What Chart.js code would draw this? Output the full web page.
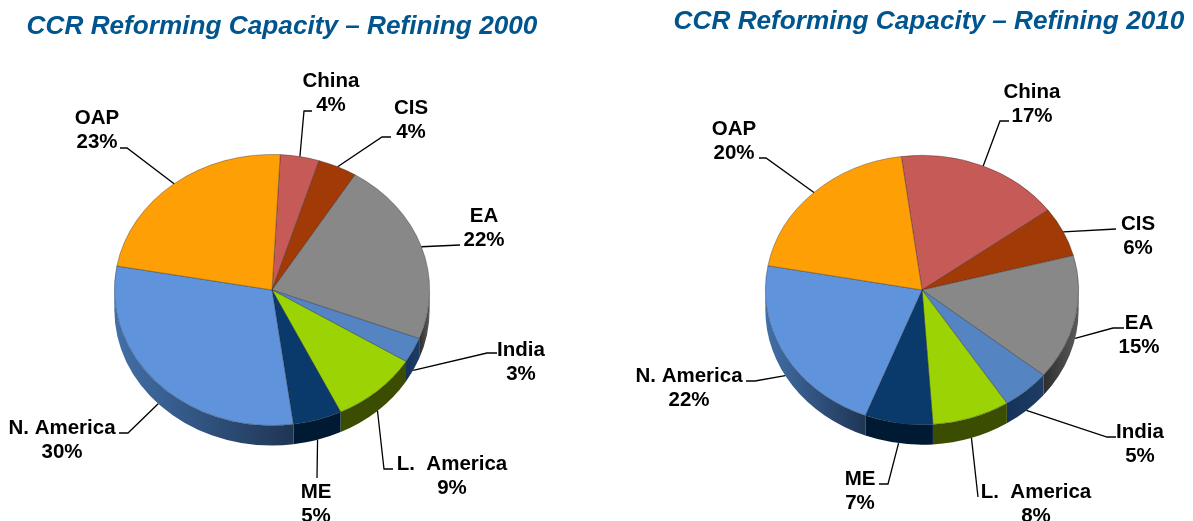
<!DOCTYPE html>
<html>
<head>
<meta charset="utf-8">
<style>
html,body{margin:0;padding:0;background:#fff;overflow:hidden;width:1193px;height:521px}
canvas{position:absolute;top:0;display:block}
</style>
<script src="https://cdn.jsdelivr.net/npm/chart.js@4/dist/chart.umd.min.js"></script>
</head>
<body>
<canvas id="c2000" style="left:0" width="600" height="521"></canvas>
<canvas id="c2010" style="left:600px" width="593" height="521"></canvas>
<script>
const categories = ['China','CIS','EA','India','L.  America','ME','N. America','OAP'];
const values2000 = [4,4,22,3,9,5,30,23];
const values2010 = [17,6,15,5,8,7,22,20];
const title2000 = 'CCR Reforming Capacity \u2013 Refining 2000';
const title2010 = 'CCR Reforming Capacity \u2013 Refining 2010';

const faceColors = ['#c55a57','#a23a08','#888888','#5484c2','#9bd305','#0a3a6b','#5f93dc','#ff9f06'];
const sideColors = [['#7a3533','#7a3533'],['#5e2204','#5e2204'],['#2d2d2d','#5c5c5c'],['#15335a','#1f3c64'],
                    ['#3a4d00','#3a4d00'],['#001a33','#001a33'],['#4270a8','#1f3555'],['#99600a','#99600a']];

const FONT_LABEL = 'bold 20.5px "Liberation Sans", Arial, sans-serif';
const FONT_TITLE = 'italic bold 26.2px "Liberation Sans", Arial, sans-serif';
const INK = '#000', TITLE_INK = '#00558f';
const SQUASH = 0.86, DEPTH = 20;

/* label layout, in canvas pixels: label centre x, first line y, leader route after the anchor */
const layout2000 = {
  title:[282,27], cx:272, rx:158,
  labels:[[331,81],[411,108],[484,216],[521,350],[452,464],[316,492],[62,428],[97,118]],
  routes:[[[304,111],[312,111]],[[382,137],[391,137]],[[460,245]],[[487,353],[497,353]],
          [[384,469],[393,469]],[[317,478]],[[128,433],[119,433]],[[127,148],[120,148]]]
};
const layout2010 = {
  title:[929-600,22], cx:922-600, rx:157,
  labels:[[432,92],[538,224],[539,323],[540,432],[436,492],[260,479],[89,376],[134,129]],
  routes:[[[400,121],[409,121]],[[516,229]],[[513,328],[524,328]],[[507,437],[516,437]],
          [[378,497]],[[288,484],[279,484]],[[155,381],[146,381]],[[166,158],[159,158]]]
};

function frontParts(s,e){
  const out=[];
  for(const k of [-2,0,2]){
    const a=Math.max(s,k*Math.PI), b=Math.min(e,(k+1)*Math.PI);
    if(b>a) out.push([a-k*Math.PI,b-k*Math.PI]);
  }
  return out;
}

function makePlugin(title,lay){
  return {
    id:'tiltedPie',
    beforeDatasetsDraw(chart){
      const ctx=chart.ctx, arcs=chart.getDatasetMeta(0).data;
      const cx=arcs[0].x, cy=arcs[0].y, r=arcs[0].outerRadius, ry=r*SQUASH;
      arcs.forEach((arc,i)=>{
        frontParts(arc.startAngle,arc.endAngle).forEach(([a,b])=>{
          const g=ctx.createLinearGradient(cx+r*Math.cos(b),0,cx+r*Math.cos(a),0);
          g.addColorStop(0,sideColors[i][0]); g.addColorStop(1,sideColors[i][1]);
          ctx.beginPath();
          ctx.ellipse(cx,cy,r,ry,0,a,b);
          ctx.ellipse(cx,cy+DEPTH,r,ry,0,b,a,true);
          ctx.closePath();
          ctx.fillStyle=g; ctx.fill();
        });
      });
      ctx.save();
      ctx.translate(cx,cy); ctx.scale(1,SQUASH); ctx.translate(-cx,-cy);
    },
    afterDatasetsDraw(chart){
      const ctx=chart.ctx; ctx.restore();
      const arcs=chart.getDatasetMeta(0).data;
      const vals=chart.data.datasets[0].data;
      const cx=arcs[0].x, cy=arcs[0].y, r=arcs[0].outerRadius, ry=r*SQUASH;
      ctx.strokeStyle=INK; ctx.lineWidth=1.3;
      arcs.forEach((arc,i)=>{
        const m=(arc.startAngle+arc.endAngle)/2;
        const front=Math.sin(m)>0.12;
        const ax=cx+r*Math.cos(m), ay=cy+ry*Math.sin(m)+(front?DEPTH:0);
        ctx.beginPath(); ctx.moveTo(ax,ay);
        lay.routes[i].forEach(p=>ctx.lineTo(p[0],p[1]));
        ctx.stroke();
      });
      ctx.fillStyle=INK; ctx.font=FONT_LABEL; ctx.textAlign='center'; ctx.textBaseline='middle';
      chart.data.labels.forEach((name,i)=>{
        const [x,y]=lay.labels[i];
        ctx.fillText(name,x,y);
        ctx.fillText(vals[i]+'%',x,y+24.5);
      });
      ctx.fillStyle=TITLE_INK; ctx.font=FONT_TITLE;
      ctx.fillText(title,lay.title[0],lay.title[1]);
    }
  };
}

function build(id,values,title,lay,rotation){
  const el=document.getElementById(id), W=el.width, H=el.height;
  const cy=290;
  return new Chart(el,{
    type:'pie',
    data:{labels:categories,datasets:[{data:values,backgroundColor:faceColors,borderColor:'rgba(35,35,35,0.55)',borderWidth:0.7,clip:false}]},
    options:{
      responsive:false,animation:false,events:[],rotation:rotation,
      layout:{padding:{left:lay.cx-lay.rx,right:W-lay.cx-lay.rx,top:cy-lay.rx,bottom:H-cy-lay.rx}},
      plugins:{legend:{display:false},tooltip:{enabled:false},title:{display:false}}
    },
    plugins:[makePlugin(title,lay)]
  });
}
build('c2000',values2000,title2000,layout2000,3);
build('c2010',values2010,title2010,layout2010,-7.6);
</script>
</body>
</html>
